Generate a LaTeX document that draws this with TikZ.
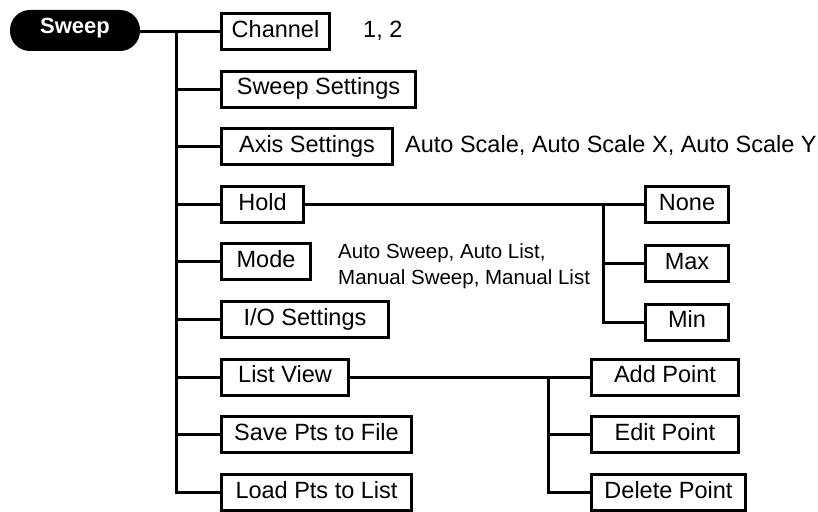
\documentclass[tikz,border=0pt]{standalone}
\usepackage{fontspec}
\setmainfont{Liberation Sans}
\begin{document}
\begin{tikzpicture}[x=1pt,y=-1pt]
			% Styles
			\tikzstyle{trait}=[-,line width=3pt]
			\tikzstyle{boite}=[draw,line width=3pt,anchor=west,minimum height=36pt,inner xsep=0pt,text height=16.5pt,text depth=5pt,font=\fontsize{23.5}{28}\selectfont]
			\tikzstyle{pilule}=[fill=black,text=white,rounded corners=20pt,minimum width=130pt,minimum height=41pt,inner sep=0pt,text height=13.5pt,text depth=7pt,font=\fontsize{22}{26}\selectfont\bfseries]
			\tikzstyle{commentaire}=[anchor=west,inner sep=0pt,text height=16.5pt,text depth=5pt,font=\fontsize{23.5}{28}\selectfont]
			\tikzstyle{petit}=[anchor=west,inner sep=0pt,align=left,font=\fontsize{20.5}{26}\selectfont]
			% Dimensions
			\def\DebutY{31.5}
			\def\Pas{57.6}
			\def\ColA{220}
			\def\ColHold{644}
			\def\ColListe{590}
			\useasboundingbox (0,0) rectangle (818,511);
			% Noeuds
			\node[pilule] (Sweep) at (75,{\DebutY-1}) {Sweep};
			\node[boite,minimum width=108pt] (Channel) at ({\ColA},{\DebutY+(0)*\Pas}) {Channel};
			\node[boite,minimum width=194pt] (Reglages) at ({\ColA},{\DebutY+(1)*\Pas}) {Sweep Settings};
			\node[boite,minimum width=171pt] (Axes) at ({\ColA},{\DebutY+(2)*\Pas}) {Axis Settings};
			\node[boite,minimum width=82pt] (Hold) at ({\ColA},{\DebutY+(3)*\Pas}) {Hold};
			\node[boite,minimum width=89pt] (Mode) at ({\ColA},{\DebutY+(4)*\Pas}) {Mode};
			\node[boite,minimum width=167pt] (IO) at ({\ColA},{\DebutY+(5)*\Pas}) {I/O Settings};
			\node[boite,minimum width=127pt] (Liste) at ({\ColA},{\DebutY+(6)*\Pas}) {List View};
			\node[boite,minimum width=190pt] (Sauver) at ({\ColA},{\DebutY+(7)*\Pas}) {Save Pts to File};
			\node[boite,minimum width=190pt] (Charger) at ({\ColA},{\DebutY+(8)*\Pas}) {Load Pts to List};
			%
			\node[boite,minimum width=83pt] (None) at ({\ColHold},{\DebutY+(3)*\Pas}) {None};
			\node[boite,minimum width=83pt] (Max) at ({\ColHold},263.5) {Max};
			\node[boite,minimum width=83pt] (Min) at ({\ColHold},322) {Min};
			\node[boite,minimum width=147pt] (Ajout) at ({\ColListe},{\DebutY+(6)*\Pas}) {Add Point};
			\node[boite,minimum width=147pt] (Edition) at ({\ColListe},{\DebutY+(7)*\Pas}) {Edit Point};
			\node[boite,minimum width=154pt] (Suppr) at ({\ColListe},{\DebutY+(8)*\Pas}) {Delete Point};
			%
			\node[commentaire] (cChannel) at (363,{\DebutY+(0)*\Pas}) {1, 2};
			\node[commentaire] (cAxes) at (405,{\DebutY+(2)*\Pas}) {Auto Scale, Auto Scale X, Auto Scale Y};
			\node[petit] (cMode) at (338,266.5) {Auto Sweep, Auto List,\\Manual Sweep, Manual List};
			% Points de jonction
			\coordinate (tronc) at (176,{\DebutY});
			\coordinate (troncHold) at (603,{\DebutY+(3)*\Pas});
			\coordinate (troncListe) at (548,{\DebutY+(6)*\Pas});
			% Liaisons
			\draw[trait] (Sweep.east |- tronc)--(Channel.west);
			\foreach \n in {Reglages,Axes,Hold,Mode,IO,Liste,Sauver,Charger}
				\draw[trait] (tronc) |- (\n.west);
			\draw[trait] (Hold.east)--(None.west);
			\draw[trait] (troncHold) |- (Max.west);
			\draw[trait] (troncHold) |- (Min.west);
			\draw[trait] (Liste.east)--(Ajout.west);
			\draw[trait] (troncListe) |- (Edition.west);
			\draw[trait] (troncListe) |- (Suppr.west);
\end{tikzpicture}
\end{document}
